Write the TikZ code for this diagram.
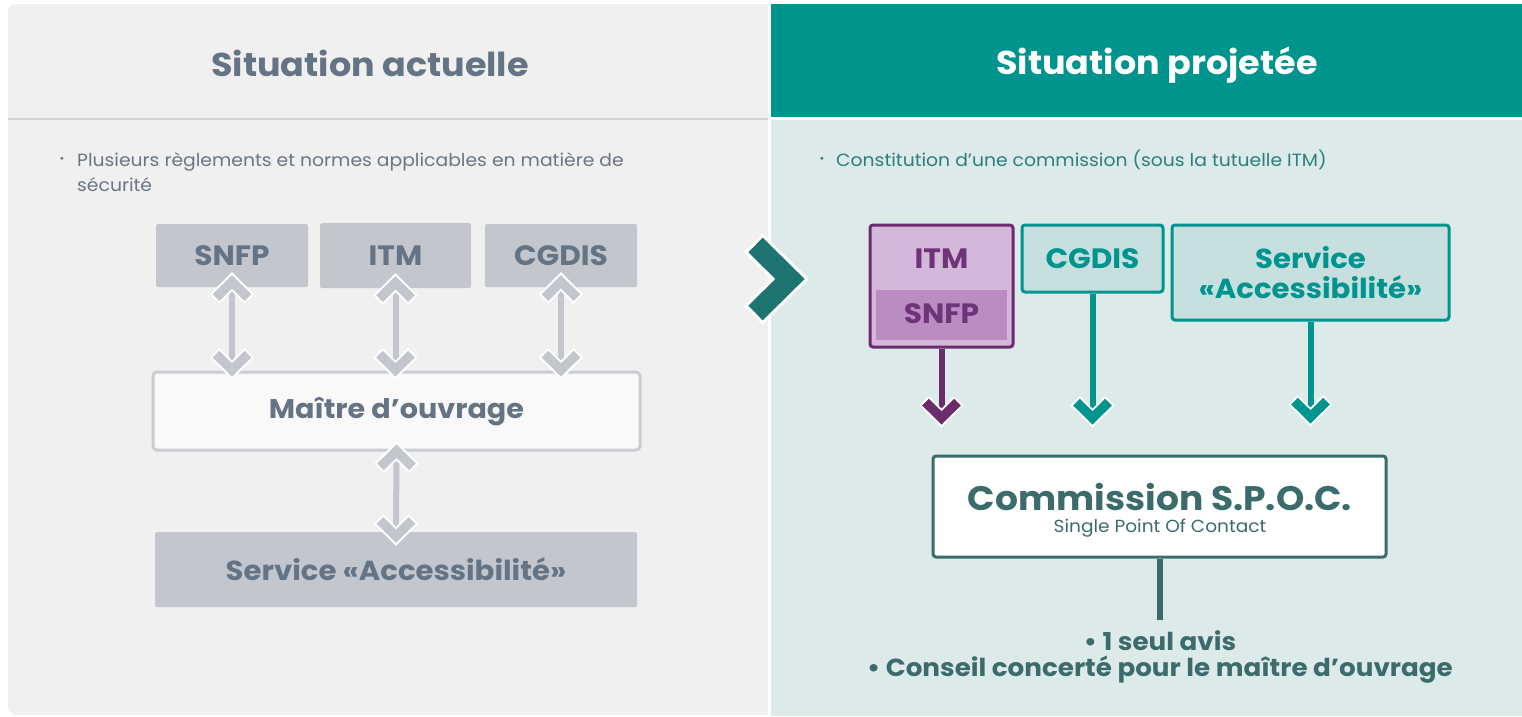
\documentclass[tikz,border=0pt]{standalone}
\usepackage{fontspec}
\setmainfont{Poppins}[FakeStretch=1.06]
\usetikzlibrary{calc}
\definecolor{lbg}{HTML}{F0F0F0}
\definecolor{rbg}{HTML}{DCEAEA}
\definecolor{teal}{HTML}{00948F}
\definecolor{cgray}{HTML}{C3C7CD}
\definecolor{cgtext}{HTML}{657484}
\definecolor{bultext}{HTML}{6A7683}
\definecolor{rbul}{HTML}{2D7F7C}
\definecolor{mofill}{HTML}{F9F9F9}
\definecolor{cgfill}{HTML}{C8DFE0}
\definecolor{pdark}{HTML}{6B2C6E}
\definecolor{ptext}{HTML}{6E3378}
\definecolor{pfill}{HTML}{D4B8D9}
\definecolor{pfill2}{HTML}{BB8CC1}
\definecolor{chevc}{HTML}{1E7471}
\definecolor{spoc}{HTML}{3B6B6A}
\tikzset{
  pics/chevdown/.style={code={
    \draw[white,line width=13.5,line join=miter,line cap=butt] (-17.4,-23.8) -- (0,-6.4) -- (17.4,-23.8);
    \draw[#1,line width=9.5,line join=miter,line cap=butt] (-16,-22.4) -- (0,-6.6) -- (16,-22.4);
  }},
  gbox/.style={fill=cgray, minimum width=152, minimum height=63, inner sep=0, rounded corners=1.5,
    font=\bfseries\fontsize{28}{32}\selectfont, text=cgtext},
  gline/.style={cgray, line width=6},
  tbox/.style={fill=cgfill, draw=teal, line width=3, rounded corners=3, inner sep=0,
    font=\bfseries\fontsize{28}{30}\selectfont, text=teal, align=center},
  tline/.style={teal, line width=6},
  pline/.style={pdark, line width=6},
  ttl/.style={font=\bfseries\fontsize{33}{38}\selectfont, anchor=base},
  bul/.style={font=\fontsize{17.7}{25}\selectfont, inner sep=0},
}
\begin{document}
\begin{tikzpicture}[x=1pt,y=-1pt]
\useasboundingbox (0,0) rectangle (1522,716);
\fill[white] (0,0) rectangle (1522,716);
% left panel
\fill[lbg,rounded corners=8] (8,4) rectangle (790,715);
\fill[white] (768,0) rectangle (771,716);
\draw[cgray!80!white, line width=2] (8,119) -- (768,119);
% right panel
\fill[rbg] (771,4) rectangle (1522,716);
\fill[teal] (771,4) rectangle (1522,117);
\fill[white] (771,117) rectangle (1522,119.5);
% titles
\node[ttl, text=cgtext] (t1) at (370,76) {Situation actuelle};
\node[ttl, text=white] (t2) at (1157,74) {Situation projetée};
% bullets
\node[bul, text=bultext] (b1) at (62,160) {\fontsize{11}{11}\selectfont •};
\node[bul, text=bultext, anchor=north west, align=left] (b1t) at (77,152) {Plusieurs règlements et normes applicables en matière de\\sécurité};
\node[bul, text=rbul] (b2) at (822,160) {\fontsize{11}{11}\selectfont •};
\node[bul, text=rbul, anchor=west] (b2t) at (836,160) {Constitution d’une commission (sous la tutuelle ITM)};
% left boxes
\node[gbox] (snfp) at (232,255.5) {SNFP};
\node[gbox, minimum width=151, minimum height=65] (itm) at (395.5,255.5) {ITM};
\node[gbox] (cgdis) at (561,255.5) {CGDIS};
\node[fill=mofill, draw=cgray!90!white, line width=3, rounded corners=4, minimum width=487, minimum height=78,
  font=\bfseries\fontsize{27}{30}\selectfont, text=cgtext] (mo) at (396.5,411) {Maître d’ouvrage};
\node[gbox, minimum width=482, minimum height=75, font=\bfseries\fontsize{27.5}{30}\selectfont] (svc) at (396,569.5) {Service «Accessibilité»};
% left connectors
\foreach \n in {snfp,itm,cgdis}{
  \draw[gline] (\n.south) -- (\n.south |- mo.north);
  \pic[rotate=180] at ([yshift=12]\n.south) {chevdown=cgray};
  \pic at ([yshift=-6]\n.south |- mo.north) {chevdown=cgray};
}
\draw[gline] (mo.south) -- (svc.north);
\pic[rotate=180] at ([yshift=7]mo.south) {chevdown=cgray};
\pic at ([yshift=-11]svc.north) {chevdown=cgray};
% big chevron
\draw[white, line width=26.5, line join=miter, line cap=butt] (753.4,242.9) -- (790,279) -- (753.4,315.1);
\draw[chevc, line width=20.5, line join=miter, line cap=butt] (755.5,245) -- (790,279) -- (755.5,313);
% right boxes
\node[fill=pfill, draw=pdark, line width=3, rounded corners=3, minimum width=143, minimum height=122, inner sep=0] (ritm) at (941.5,286) {};
\node[fill=pfill2, minimum width=131, minimum height=50, inner sep=0] (rsnfpbg) at (941.5,315) {};
\node[font=\bfseries\fontsize{28}{30}\selectfont, text=ptext, inner sep=0] (ritmt) at (941.5,259) {ITM};
\node[font=\bfseries\fontsize{28}{30}\selectfont, text=ptext, inner sep=0] (rsnfpt) at (941.5,314) {SNFP};
\node[tbox, minimum width=141, minimum height=67] (rcg) at (1092.5,258.5) {CGDIS};
\node[tbox, minimum width=277, minimum height=95, font=\bfseries\fontsize{27.5}{30}\selectfont] (rsvc) at (1310.5,272.5) {Service\\«Accessibilité»};
\node[fill=white, draw=spoc, line width=3, rounded corners=3, minimum width=453, minimum height=101, inner sep=0] (spocbox) at (1159.5,506.5) {};
\node[font=\bfseries\fontsize{34}{40}\selectfont, text=spoc, inner sep=0] (spoct) at (1160,497) {Commission S.P.O.C.};
\node[font=\fontsize{17.5}{20}\selectfont, text=spoc, inner sep=0] (spocs) at (1160,528) {Single Point Of Contact};
% right connectors
\coordinate (tp1) at ([yshift=-76]ritm.south);
\coordinate (tp2) at ([yshift=-131]rcg.south);
\coordinate (tp3) at ([yshift=-102]rsvc.south);
\draw[pline] (ritm.south) -- ([yshift=8]tp1);
\pic at (tp1) {chevdown=pdark};
\draw[tline] (rcg.south) -- ([yshift=8]tp2);
\pic at (tp2) {chevdown=teal};
\draw[tline] (rsvc.south) -- ([yshift=8]tp3);
\pic at (tp3) {chevdown=teal};
% bottom
\node[font=\bfseries\fontsize{24.7}{28}\selectfont, text=spoc, align=center, inner sep=0, anchor=north] (res) at (1160,630) {• 1 seul avis\\[-1pt]• Conseil concerté pour le maître d’ouvrage};
\draw[spoc, line width=6] (spocbox.south) -- ([yshift=-61]spocbox.south);
\end{tikzpicture}
\end{document}
